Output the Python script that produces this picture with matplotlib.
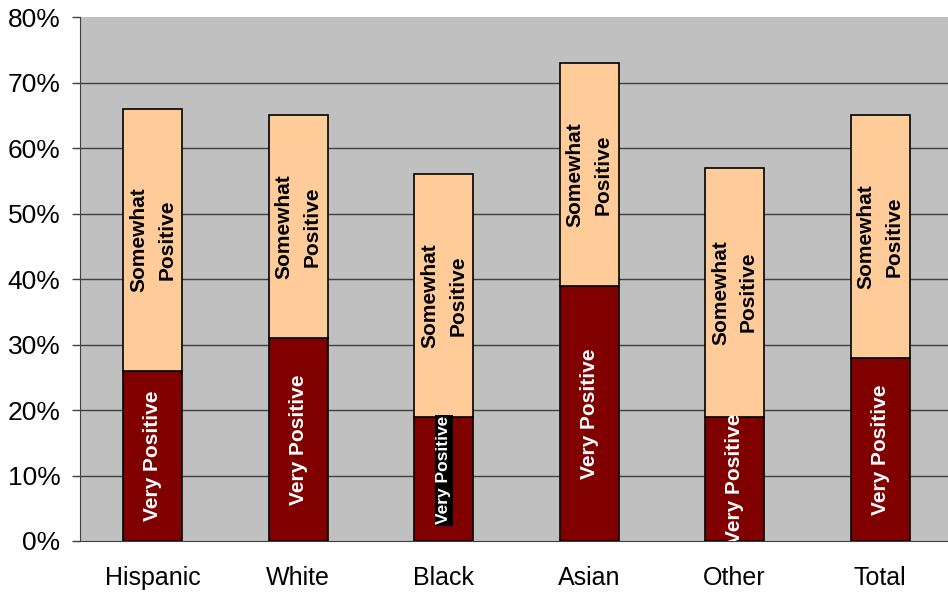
import matplotlib.pyplot as plt
from matplotlib.ticker import PercentFormatter

plt.rcParams["font.family"] = ["Liberation Sans", "DejaVu Sans"]

groups = ["Hispanic", "White", "Black", "Asian", "Other", "Total"]
very_positive = [26, 31, 19, 39, 19, 28]
somewhat_positive = [40, 34, 37, 34, 38, 37]

fig = plt.figure(figsize=(9.48, 5.96), dpi=100)
ax = fig.add_axes([0.0844, 0.0923, 0.9156, 0.879])
ax.set_facecolor("#C0C0C0")

x = range(len(groups))
w = 0.405
ax.bar(x, very_positive, width=w, color="#800000", edgecolor="black", lw=1.2, zorder=3)
ax.bar(x, somewhat_positive, width=w, bottom=very_positive, color="#FFCC99",
       edgecolor="black", lw=1.2, zorder=3)

# etichette dentro le barre
for i, (v, s) in enumerate(zip(very_positive, somewhat_positive)):
    kw = dict(rotation=90, ha="center", va="center", fontweight="bold",
              zorder=4, clip_on=True)
    if groups[i] == "Black":
        ax.text(i, v / 2 + 1.3, "Very Positive", color="white", fontsize=12.5,
                bbox=dict(facecolor="black", edgecolor="none", pad=1), **kw)
    else:
        ax.text(i, v / 2, "Very Positive", color="white", fontsize=15, **kw)
    ax.text(i, v + s / 2, "Somewhat\nPositive", color="black", fontsize=15,
            linespacing=1.6, **kw)

ax.set_ylim(0, 80)
ax.set_xlim(-0.5, 5.467)
ax.set_yticks(range(0, 81, 10))
ax.yaxis.set_major_formatter(PercentFormatter(decimals=0))
ax.set_xticks(list(x))
ax.set_xticklabels(groups)
ax.tick_params(axis="y", labelsize=19, length=6, width=1, color="#404040", pad=8)
ax.tick_params(axis="x", labelsize=18, length=0, pad=18)

for y in range(10, 80, 10):
    ax.axhline(y, color="#404040", lw=1, zorder=1)

for side in ["top", "right"]:
    ax.spines[side].set_visible(False)
ax.spines["left"].set_color("#404040")
ax.spines["bottom"].set_color("#404040")

fig.savefig("out.png", dpi=100)
